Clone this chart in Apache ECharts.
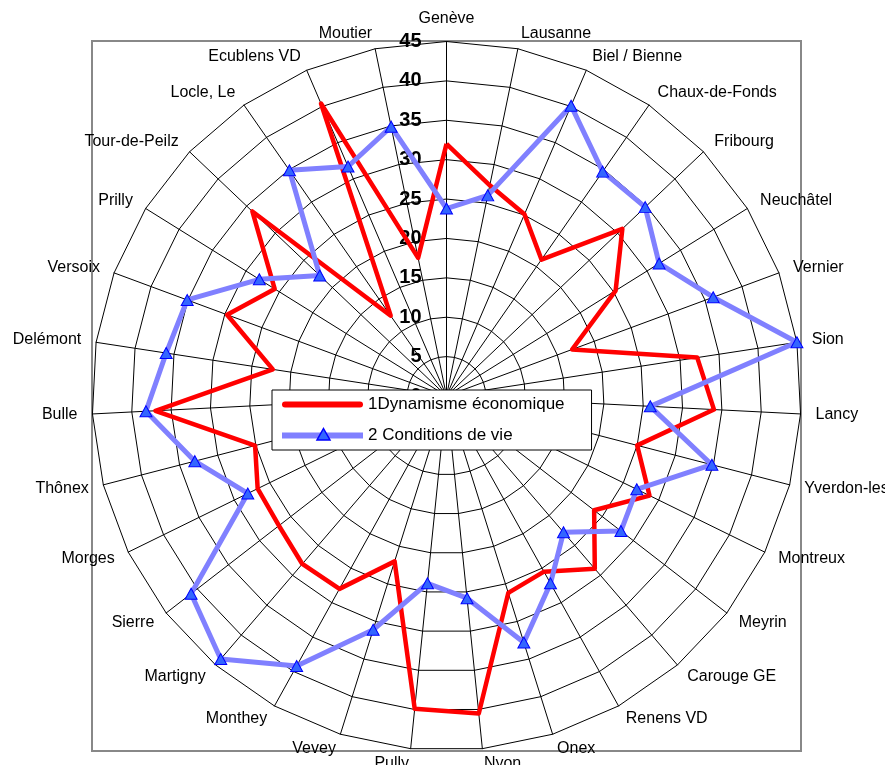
<!DOCTYPE html>
<html><head><meta charset="utf-8">
<script src="https://cdn.jsdelivr.net/npm/echarts@6/dist/echarts.min.js"></script>
<style>html,body{margin:0;padding:0;background:#fff}#c{width:885px;height:765px}</style>
</head><body><div id="c"></div>
<script>
const categories = ['Genève','Lausanne','Biel / Bienne','Chaux-de-Fonds','Fribourg','Neuchâtel','Vernier','Sion','Lancy','Yverdon-les-Bains','Montreux','Meyrin','Carouge GE','Renens VD','Onex','Nyon','Pully','Vevey','Monthey','Martigny','Sierre','Morges','Thônex','Bulle','Delémont','Versoix','Prilly','Tour-de-Peilz','Locle, Le','Ecublens VD','Moutier'];
const dynamisme = [32, 27.3, 25.1, 21.1, 30.8, 25.3, 17.0, 32.2, 34.0, 25.0, 28.7, 23.7, 28.9, 25.5, 26.2, 40.5, 39.9, 22.0, 28.0, 28.1, 26.9, 26.7, 25.1, 37.0, 22.3, 29.7, 25.7, 34.0, 12.4, 40.4, 17.9];
const conditions = [23.8, 26.0, 40.1, 34.7, 34.8, 31.8, 36.1, 45, 25.9, 34.8, 26.9, 28.0, 22.8, 27.2, 32.8, 25.8, 23.9, 31.1, 39.2, 44.0, 41.0, 28.1, 33.0, 38.2, 36.0, 35.1, 28.0, 22.2, 34.9, 31.7, 34.9];
const ticks = [0, 5, 10, 15, 20, 25, 30, 35, 40, 45];
const seriesNames = ['1Dynamisme économique', '2 Conditions de vie'];

const FONT = 'Liberation Sans, Arial, sans-serif';
// ECharts lays radar indicators out counter-clockwise; the reference runs clockwise.
const order = [0].concat(categories.map((_, i) => i).slice(1).reverse());
const maxVal = ticks[ticks.length - 1];
const indicator = order.map((i, k) => {
  const o = { name: categories[i], min: ticks[0], max: maxVal };
  if (k === 0) {
    o.axisLabel = { show: true, color: '#000', fontSize: 20, fontWeight: 'bold', fontFamily: FONT, margin: 25, align: 'right', verticalAlign: 'middle' };
  }
  return o;
});
const pick = arr => order.map(i => arr[i]);

const chart = echarts.init(document.getElementById('c'), null, { renderer: 'canvas' });
chart.setOption({
  animation: false,
  backgroundColor: '#fff',
  graphic: [
    {
      type: 'rect', z: -10, silent: true,
      shape: { x: 92, y: 41, width: 709, height: 710 },
      style: { fill: 'none', stroke: '#888', lineWidth: 2 }
    },
    {
      // legend marker of the second series
      type: 'polygon', z: 100, silent: true,
      shape: { points: [[323.5, 428.5], [330, 440], [317, 440]] },
      style: { fill: '#3366FF', stroke: '#0000FF', lineWidth: 1.5 }
    }
  ],
  legend: {
    orient: 'vertical',
    left: 272, top: 390,
    padding: [6, 27, 6, 10],
    itemWidth: 81, itemHeight: 14, itemGap: 14,
    backgroundColor: '#fff',
    borderColor: '#000', borderWidth: 1, borderRadius: 0,
    textStyle: { color: '#000', fontSize: 17, fontFamily: FONT },
    z: 4,
    data: [
      { name: seriesNames[0], icon: 'path://M3,0H78A3,3 0 0 1 78,6H3A3,3 0 0 1 3,0Z', itemStyle: { color: '#FF0000', borderWidth: 0 } },
      { name: seriesNames[1], icon: 'path://M0,0H81V6H0Z', itemStyle: { color: '#8080FF', borderWidth: 0 } }
    ]
  },
  radar: {
    center: [446.5, 396],
    radius: 354.5,
    startAngle: 90,
    shape: 'polygon',
    splitNumber: ticks.length - 1,
    indicator: indicator,
    nameGap: 15,
    axisName: { color: '#000', fontSize: 16, fontFamily: FONT },
    axisLine: { lineStyle: { color: '#000', width: 1 } },
    splitLine: { lineStyle: { color: '#000', width: 1 } },
    splitArea: { show: false },
    axisTick: { show: false },
    axisLabel: { show: false }
  },
  series: [{
    type: 'radar',
    z: 3,
    data: [
      {
        name: seriesNames[0], value: pick(dynamisme),
        symbol: 'none',
        lineStyle: { color: '#FF0000', width: 4.5 },
        itemStyle: { color: '#FF0000' }
      },
      {
        name: seriesNames[1], value: pick(conditions),
        symbol: 'triangle', symbolSize: [12, 11],
        lineStyle: { color: '#8080FF', width: 5 },
        itemStyle: { color: '#3366FF', borderColor: '#0000FF', borderWidth: 1 }
      }
    ]
  }]
});
</script></body></html>
